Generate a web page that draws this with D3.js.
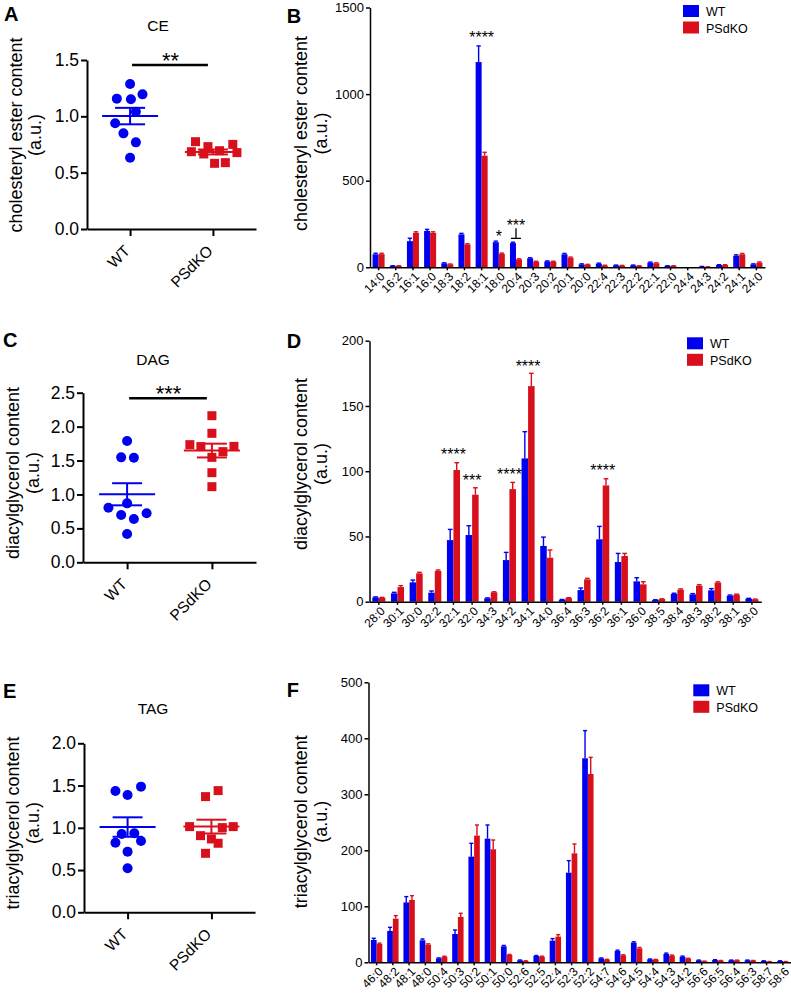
<!DOCTYPE html>
<html><head><meta charset="utf-8">
<script src="https://cdn.jsdelivr.net/npm/d3@7"></script>
<style>
body{margin:0;background:#fff}
svg{display:block}
text{font-family:"Liberation Sans",Arial,Helvetica,sans-serif;fill:#000}
</style>
</head><body>
<script>
// ---------------- DATA ----------------
const groups = ["WT", "PSdKO"];

// Panel A – CE scatter
const ceWT = [1.287, 1.157, 1.151, 1.195, 1.041, 0.938, 0.849, 0.769, 0.633];
const ceWTJitter = [0, -0.16, 0.01, 0.15, 0.07, -0.18, -0.08, 0.07, 0];
const ceKO = [0.775, 0.686, 0.731, 0.666, 0.583, 0.589, 0.695, 0.751, 0.678];
const ceKOJitter = [-0.21, -0.26, -0.06, -0.11, 0.02, 0.15, 0.08, 0.24, 0.29];
const ceTicks = [0, 0.5, 1.0, 1.5];

// Panel C – DAG scatter
const dagWT = [1.788, 1.547, 1.542, 0.869, 0.805, 0.697, 0.722, 0.638, 0.417];
const dagWTJitter = [0, -0.07, 0.08, 0, -0.22, -0.07, 0.23, 0.08, 0];
const dagKO = [2.161, 1.901, 1.734, 1.705, 1.709, 1.631, 1.547, 1.321, 1.115];
const dagKOJitter = [0, 0, -0.26, -0.13, 0.26, 0.13, 0, 0, 0];
const dagTicks = [0, 0.5, 1.0, 1.5, 2.0, 2.5];

// Panel E – TAG scatter
const tagWT = [1.436, 1.487, 1.389, 0.927, 0.935, 0.824, 0.844, 0.718, 0.521];
const tagWTJitter = [-0.145, 0.16, 0, -0.07, 0.08, -0.145, 0.16, 0, 0];
const tagKO = [1.44, 1.369, 1.014, 1.014, 1.002, 0.907, 0.868, 0.817, 0.698];
const tagKOJitter = [0.08, -0.07, -0.26, 0.26, 0.13, -0.13, 0, 0.08, -0.07];
const tagTicks = [0, 0.5, 1.0, 1.5, 2.0];

// Panel B – CE species
const ceCats = ["14:0","16:2","16:1","16:0","18:3","18:2","18:1","18:0","20:4","20:3","20:2","20:1","20:0","22:4","22:3","22:2","22:1","22:0","24:4","24:3","24:2","24:1","24:0"];
const ceSpWT    = [75, 8, 151, 210, 23, 190, 1185, 145, 140, 52, 34, 75, 17, 21, 11, 11, 27, 8, 1, 4, 13, 67, 17];
const ceSpWTErr = [6, 1, 17, 9, 3, 6, 93, 6, 5, 3, 3, 5, 3, 3, 2, 2, 3, 1, 0, 1, 2, 5, 3];
const ceSpKO    = [76, 8, 199, 199, 17, 132, 644, 78, 46, 32, 32, 55, 15, 10, 10, 8, 23, 8, 1, 2, 13, 75, 27];
const ceSpKOErr = [5, 1, 6, 6, 2, 4, 20, 4, 3, 3, 3, 4, 2, 2, 1, 1, 3, 1, 0, 1, 2, 5, 4];
const ceSpTicks = [0, 500, 1000, 1500];

// Panel D – DAG species
const dagCats = ["28:0","30:1","30:0","32:2","32:1","32:0","34:3","34:2","34:1","34:0","36:4","36:3","36:2","36:1","36:0","38:5","38:4","38:3","38:2","38:1","38:0"];
const dagSpWT    = [3.3, 6.4, 14.8, 6.9, 47.2, 51.1, 2.6, 31.9, 109.8, 42.7, 1.5, 8.9, 47.8, 30.4, 15.6, 1.3, 5.9, 5.6, 8.7, 4.6, 2.3];
const dagSpWTErr = [0.4, 0.8, 1.8, 1.3, 8.2, 7.1, 0.3, 5.9, 20.5, 6.8, 0.2, 1.6, 9.9, 6.6, 2.8, 0.2, 0.6, 0.6, 1.3, 0.5, 0.3];
const dagSpKO    = [3.0, 11.2, 21.7, 23.5, 100.9, 82.0, 7.2, 86.3, 165.2, 33.7, 2.8, 17.1, 89.1, 35.0, 13.3, 2.0, 9.2, 12.3, 14.6, 5.4, 1.8];
const dagSpKOErr = [0.3, 1.1, 0.8, 0.8, 5.6, 5.3, 0.4, 5.1, 9.8, 5.9, 0.3, 0.8, 5.1, 2.0, 2.0, 0.2, 0.6, 0.7, 0.6, 0.4, 0.2];
const dagSpTicks = [0, 50, 100, 150, 200];

// Panel F – TAG species
const tagCats = ["46:0","48:2","48:1","48:0","50:4","50:3","50:2","50:1","50:0","52:6","52:5","52:4","52:3","52:2","54:7","54:6","54:5","54:4","54:3","54:2","56:6","56:5","56:4","56:3","58:7","58:6"];
const tagSpWT    = [39.9, 56, 107, 39.3, 7.1, 50.6, 188.7, 220.8, 28.6, 3.6, 11.3, 38.7, 160, 364.3, 7.1, 20.2, 35.1, 5.4, 14.9, 10.1, 3.6, 4.2, 3.6, 3.6, 2.4, 2.4];
const tagSpWTErr = [3, 6.5, 10.3, 2.4, 0.8, 7.1, 23.8, 24.4, 1.5, 0.5, 0.8, 3.6, 21.5, 49.4, 0.7, 1.5, 1.5, 0.5, 1.5, 1, 0.4, 0.5, 0.4, 0.4, 0.3, 0.3];
const tagSpKO    = [32.7, 78, 111.3, 31.5, 10.1, 81, 226.2, 201.8, 13.1, 2.4, 10.1, 45.8, 194.6, 336.3, 4.8, 12.5, 25, 4.8, 11.9, 6.5, 1.8, 3, 3.6, 3, 1.2, 1.2];
const tagSpKOErr = [1.5, 5.3, 7.7, 1.5, 0.8, 6.5, 19, 16.6, 1, 0.3, 0.8, 3.6, 16.7, 29.7, 0.5, 1, 1.5, 0.4, 1, 0.6, 0.3, 0.3, 0.3, 0.3, 0.2, 0.2];
const tagSpTicks = [0, 100, 200, 300, 400, 500];

// significance annotations (category, label, level in data units)
const ceSpStars = [{cat:"18:1", text:"****", v:1294}, {cat:"18:0", text:"*", v:145}, {cat:"20:4", text:"***", v:210}];
const ceSpBracket = [{cat:"20:4", top:226, bottom:167}];
const dagSpStars = [{cat:"32:1", text:"****", v:108.6}, {cat:"32:0", text:"***", v:88.9}, {cat:"34:2", text:"****", v:93.5}, {cat:"34:1", text:"****", v:175.8}, {cat:"36:2", text:"****", v:96.1}];

// ---------------- STYLE ----------------
const colors = {WT: "#0000f0", PSdKO: "#d8101c"};
const svg = d3.select("body").append("svg").attr("width", 791).attr("height", 993);

function styleAxis(a, w) {
  a.select(".domain").attr("stroke", "#000").attr("stroke-width", w);
  a.selectAll(".tick line").attr("stroke", "#000").attr("stroke-width", w);
}

function yTitle(g, L, lines, fs) {
  lines.forEach((t, i) => {
    g.append("text")
      .attr("transform", `translate(${L.ytX[i]},${L.ytY}) rotate(-90)`)
      .attr("text-anchor", "middle").attr("font-size", fs).text(t);
  });
}

function scatterPanel(L, D) {
  const g = svg.append("g");
  const y = d3.scaleLinear().domain([0, d3.max(D.ticks)]).range([L.y0, L.yTop]);
  const x = d3.scalePoint().domain(groups).range([L.x0, L.x1]).padding(0.52);
  const ya = g.append("g").attr("transform", `translate(${L.x0},0)`)
    .call(d3.axisLeft(y).tickValues(D.ticks).tickFormat(d3.format(".1f")).tickSize(6).tickPadding(2).tickSizeOuter(0));
  ya.selectAll(".tick text").attr("font-size", 17.5).attr("font-family", null).attr("fill", "#000");
  styleAxis(ya, 2);
  const xa = g.append("g").attr("transform", `translate(0,${L.y0})`)
    .call(d3.axisBottom(x).tickSize(7).tickSizeOuter(0).tickFormat(""));
  styleAxis(xa, 2);
  g.selectAll(".xl").data(groups).join("text")
    .attr("transform", d => `translate(${x(d) - 3},${L.y0 + 19}) rotate(-45)`)
    .attr("text-anchor", "end").attr("dy", "0.35em").attr("font-size", 15.5).text(d => d);

  const step = x.step();
  D.series.forEach(s => {
    const c = colors[s.group];
    const pts = s.values.map((v, i) => ({v, j: s.jitter[i]}));
    if (s.group === "WT") {
      g.selectAll(null).data(pts).join("circle")
        .attr("cx", d => x(s.group) + d.j * step).attr("cy", d => y(d.v)).attr("r", 5).attr("fill", c);
    } else {
      g.selectAll(null).data(pts).join("rect")
        .attr("x", d => x(s.group) + d.j * step - 4.5).attr("y", d => y(d.v) - 4.5)
        .attr("width", 9).attr("height", 9).attr("fill", c);
    }
    const m = d3.mean(s.values), sem = d3.deviation(s.values) / Math.sqrt(s.values.length);
    const cx = x(s.group);
    const lg = g.append("g").attr("stroke", c).attr("stroke-width", 2).attr("fill", "none");
    lg.append("line").attr("x1", cx - 28).attr("x2", cx + 28).attr("y1", y(m)).attr("y2", y(m));
    lg.append("line").attr("x1", cx - 15).attr("x2", cx + 15).attr("y1", y(m + sem)).attr("y2", y(m + sem));
    lg.append("line").attr("x1", cx - 15).attr("x2", cx + 15).attr("y1", y(m - sem)).attr("y2", y(m - sem));
    lg.append("line").attr("x1", cx).attr("x2", cx).attr("y1", y(m + sem)).attr("y2", y(m - sem));
  });

  if (D.sig) {
    const ly = y(D.sig.level);
    g.append("line").attr("x1", x("WT") + 2).attr("x2", x("PSdKO") - 5).attr("y1", ly).attr("y2", ly)
      .attr("stroke", "#000").attr("stroke-width", 2.5);
    g.append("text").attr("x", (x("WT") + x("PSdKO")) / 2 - 1).attr("y", ly + 3)
      .attr("text-anchor", "middle").attr("font-size", 22).text(D.sig.text);
  }
  g.append("text").attr("x", L.titleX).attr("y", L.titleY).attr("text-anchor", "middle").attr("font-size", 15.5).text(D.title);
  g.append("text").attr("x", L.letter[0]).attr("y", L.letter[1]).attr("font-size", 20).attr("font-weight", "bold").text(D.letter);
  yTitle(g, L, D.ytitle, 18);
}

function barPanel(L, D) {
  const g = svg.append("g");
  const y = d3.scaleLinear().domain([0, d3.max(D.ticks)]).range([L.y0, L.yTop]);
  const x = d3.scaleBand().domain(D.cats).range([L.x0, L.x1]).paddingInner(0.3).paddingOuter(0.15);
  const xs = d3.scaleBand().domain(groups).range([0, x.bandwidth()]);
  const rows = D.cats.flatMap((c, i) => [
    {c, g: "WT", v: D.wt[i], e: D.wtErr[i]},
    {c, g: "PSdKO", v: D.ko[i], e: D.koErr[i]}
  ]);
  g.selectAll(".bar").data(rows).join("rect")
    .attr("x", d => x(d.c) + xs(d.g)).attr("width", xs.bandwidth())
    .attr("y", d => y(d.v)).attr("height", d => L.y0 - y(d.v)).attr("fill", d => colors[d.g]);
  const cw = xs.bandwidth() * 0.36;
  const eg = g.selectAll(".err").data(rows.filter(d => d.e > 0)).join("g")
    .attr("stroke", d => colors[d.g]).attr("stroke-width", 1.4);
  eg.append("line").attr("x1", d => x(d.c) + xs(d.g) + xs.bandwidth() / 2).attr("x2", d => x(d.c) + xs(d.g) + xs.bandwidth() / 2)
    .attr("y1", d => y(d.v)).attr("y2", d => y(d.v + d.e));
  eg.append("line").attr("x1", d => x(d.c) + xs(d.g) + xs.bandwidth() / 2 - cw).attr("x2", d => x(d.c) + xs(d.g) + xs.bandwidth() / 2 + cw)
    .attr("y1", d => y(d.v + d.e)).attr("y2", d => y(d.v + d.e));

  const ya = g.append("g").attr("transform", `translate(${L.x0},0)`)
    .call(d3.axisLeft(y).tickValues(D.ticks).tickFormat(d3.format("d")).tickSize(4).tickPadding(2).tickSizeOuter(0));
  ya.selectAll(".tick text").attr("font-size", 13).attr("font-family", null).attr("fill", "#000");
  styleAxis(ya, 1.5);
  const xa = g.append("g").attr("transform", `translate(0,${L.y0})`)
    .call(d3.axisBottom(x).tickSize(3).tickSizeOuter(0).tickFormat(""));
  styleAxis(xa, 1.5);
  g.selectAll(".xl").data(D.cats).join("text")
    .attr("transform", d => `translate(${x(d) + x.bandwidth() / 2 + 4},${L.y0 + 7}) rotate(-45)`)
    .attr("text-anchor", "end").attr("dy", "0.35em").attr("font-size", 12).text(d => d);

  (D.stars || []).forEach(s => {
    g.append("text").attr("x", x(s.cat) + x.bandwidth() / 2).attr("y", y(s.v))
      .attr("text-anchor", "middle").attr("font-size", 16).text(s.text);
  });
  (D.brackets || []).forEach(b => {
    const cx = x(b.cat) + x.bandwidth() / 2;
    g.append("path").attr("d", `M${cx},${y(b.top)}V${y(b.bottom)}M${cx - 5},${y(b.bottom)}H${cx + 5}`)
      .attr("stroke", "#000").attr("stroke-width", 1.3).attr("fill", "none");
  });

  const lg = g.append("g").attr("transform", `translate(${L.legend[0]},${L.legend[1]})`);
  groups.forEach((k, i) => {
    lg.append("rect").attr("x", 0).attr("y", i * 16.5).attr("width", 16).attr("height", 12).attr("fill", colors[k]);
    lg.append("text").attr("x", 23).attr("y", i * 16.5 + 11).attr("font-size", 12.5).text(k);
  });
  g.append("text").attr("x", L.letter[0]).attr("y", L.letter[1]).attr("font-size", 20).attr("font-weight", "bold").text(D.letter);
  yTitle(g, L, D.ytitle, 18);
}

// ---------------- DRAW ----------------
scatterPanel(
  {x0: 87, x1: 256, y0: 229, yTop: 60, titleX: 158, titleY: 30.5, letter: [4, 21], ytX: [22, 41], ytY: 135},
  {title: "CE", letter: "A", ticks: ceTicks, ytitle: ["cholesteryl ester content", "(a.u.)"],
   series: [{group: "WT", values: ceWT, jitter: ceWTJitter}, {group: "PSdKO", values: ceKO, jitter: ceKOJitter}],
   sig: {level: 1.456, text: "**"}});
scatterPanel(
  {x0: 83, x1: 256, y0: 562.3, yTop: 392.7, titleX: 153, titleY: 365, letter: [3, 346.5], ytX: [19, 39], ytY: 473},
  {title: "DAG", letter: "C", ticks: dagTicks, ytitle: ["diacylglycerol content", "(a.u.)"],
   series: [{group: "WT", values: dagWT, jitter: dagWTJitter}, {group: "PSdKO", values: dagKO, jitter: dagKOJitter}],
   sig: {level: 2.42, text: "***"}});
scatterPanel(
  {x0: 84, x1: 255, y0: 912.3, yTop: 743.3, titleX: 153, titleY: 714, letter: [3, 698], ytX: [19, 39], ytY: 823},
  {title: "TAG", letter: "E", ticks: tagTicks, ytitle: ["triacylglycerol content", "(a.u.)"],
   series: [{group: "WT", values: tagWT, jitter: tagWTJitter}, {group: "PSdKO", values: tagKO, jitter: tagKOJitter}]});

barPanel(
  {x0: 370, x1: 765, y0: 267.3, yTop: 7.5, letter: [286.7, 23.3], ytX: [307, 326.5], ytY: 133.5, legend: [683, 5]},
  {letter: "B", cats: ceCats, wt: ceSpWT, wtErr: ceSpWTErr, ko: ceSpKO, koErr: ceSpKOErr, ticks: ceSpTicks,
   ytitle: ["cholesteryl ester content", "(a.u.)"], stars: ceSpStars, brackets: ceSpBracket});
barPanel(
  {x0: 369.5, x1: 761.3, y0: 601.7, yTop: 340.7, letter: [286.7, 348.3], ytX: [307, 326.5], ytY: 464, legend: [687, 337.3]},
  {letter: "D", cats: dagCats, wt: dagSpWT, wtErr: dagSpWTErr, ko: dagSpKO, koErr: dagSpKOErr, ticks: dagSpTicks,
   ytitle: ["diacylglycerol content", "(a.u.)"], stars: dagSpStars});
barPanel(
  {x0: 368.5, x1: 791, y0: 962.3, yTop: 682.3, letter: [286.7, 696.7], ytX: [307, 326.5], ytY: 821.7, legend: [693.3, 684.3]},
  {letter: "F", cats: tagCats, wt: tagSpWT, wtErr: tagSpWTErr, ko: tagSpKO, koErr: tagSpKOErr, ticks: tagSpTicks,
   ytitle: ["triacylglycerol content", "(a.u.)"]});
</script>
</body></html>
